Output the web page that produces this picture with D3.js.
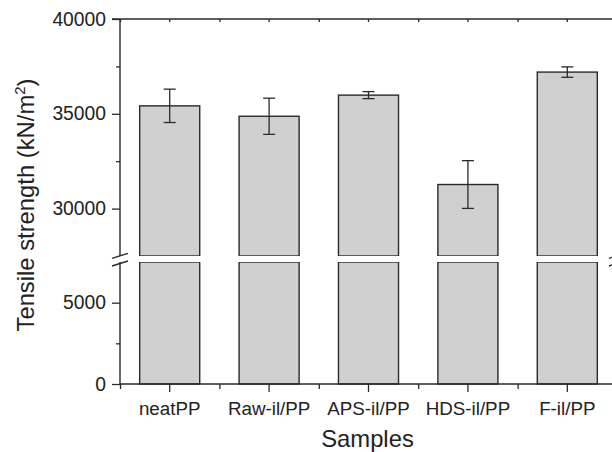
<!DOCTYPE html>
<html><head><meta charset="utf-8">
<script src="https://cdn.jsdelivr.net/npm/d3@7"></script>
<style>html,body{margin:0;background:#fff;overflow:hidden}svg{display:block}text{font-family:"Liberation Sans",Arial,Helvetica,sans-serif;fill:#222}</style>
</head><body>
<svg id="c" width="612" height="452"></svg>
<script>
const categories = ["neatPP", "Raw-il/PP", "APS-il/PP", "HDS-il/PP", "F-il/PP"];
const values = [35420, 34870, 35985, 31270, 37200];
const errors = [880, 955, 185, 1260, 275];
const upperTicks = [30000, 35000, 40000];
const upperMinor = [32500, 37500];
const lowerTicks = [0, 5000];
const lowerMinor = [2500];

const svg = d3.select("#c");
const L = 120, R = 617, T = 19, B = 384;
const breakTop = 256, breakBot = 262;
const ink = "#2a2a2a";

const x = d3.scaleBand().domain(categories).range([L, R]).padding(0);
const yU = d3.scaleLinear().domain([27500, 40000]).range([breakTop, T]);
const yL = d3.scaleLinear().domain([0, 7500]).range([B, breakBot]);
const bw = x.bandwidth() * 0.604;

const g = svg.append("g");
categories.forEach((c, i) => {
  const cx = x(c) + x.bandwidth() / 2;
  g.append("rect").attr("x", cx - bw / 2).attr("y", yU(values[i]))
    .attr("width", bw).attr("height", breakTop - yU(values[i]))
    .attr("fill", "#d0d0d0").attr("stroke", ink).attr("stroke-width", 1.4);
  g.append("rect").attr("x", cx - bw / 2).attr("y", breakBot)
    .attr("width", bw).attr("height", B - breakBot)
    .attr("fill", "#d0d0d0").attr("stroke", ink).attr("stroke-width", 1.4);
});
svg.append("rect").attr("x", L + 1).attr("y", breakTop).attr("width", R - L).attr("height", breakBot - breakTop).attr("fill", "#fff");

categories.forEach((c, i) => {
  const cx = x(c) + x.bandwidth() / 2;
  const y1 = yU(values[i] + errors[i]), y2 = yU(values[i] - errors[i]);
  const e = svg.append("g").attr("stroke", ink).attr("stroke-width", 1.3);
  e.append("line").attr("x1", cx).attr("x2", cx).attr("y1", y1).attr("y2", y2);
  e.append("line").attr("x1", cx - 6).attr("x2", cx + 6).attr("y1", y1).attr("y2", y1);
  e.append("line").attr("x1", cx - 6).attr("x2", cx + 6).attr("y1", y2).attr("y2", y2);
});

function styleAxis(fs) {
  return sel => {
    sel.select(".domain").remove();
    sel.selectAll("line").attr("stroke", ink).attr("stroke-width", 1.3);
    sel.selectAll("text").attr("font-size", fs).attr("fill", "#222");
  };
}
svg.append("g").attr("transform", `translate(${L},0)`)
  .call(d3.axisLeft(yU).tickValues(upperTicks).tickSize(8).tickPadding(6).tickFormat(d3.format("d")))
  .call(styleAxis(19.3));
svg.append("g").attr("transform", `translate(${L},0)`)
  .call(d3.axisLeft(yU).tickValues(upperMinor).tickSize(4).tickFormat(""))
  .call(styleAxis(19.3));
svg.append("g").attr("transform", `translate(${L},0)`)
  .call(d3.axisLeft(yL).tickValues(lowerTicks).tickSize(8).tickPadding(6).tickFormat(d3.format("d")))
  .call(styleAxis(19.3));
svg.append("g").attr("transform", `translate(${L},0)`)
  .call(d3.axisLeft(yL).tickValues(lowerMinor).tickSize(4).tickFormat(""))
  .call(styleAxis(19.3));

const bounds = categories.map(c => x(c));
const lin = d3.scaleLinear().domain([L, R]).range([L, R]);
svg.append("g").attr("transform", `translate(0,${B})`)
  .call(d3.axisBottom(x).tickSize(8).tickPadding(10))
  .call(styleAxis(18.8));
svg.append("g").attr("transform", `translate(0,${B})`)
  .call(d3.axisBottom(lin).tickValues(bounds).tickSize(5).tickFormat(""))
  .call(styleAxis(18.8));
svg.append("g").attr("transform", `translate(0,${T})`)
  .call(d3.axisBottom(x).tickSize(3).tickFormat(""))
  .call(styleAxis(18.8));
svg.append("g").attr("transform", `translate(0,${T})`)
  .call(d3.axisBottom(lin).tickValues(bounds).tickSize(3).tickFormat(""))
  .call(styleAxis(18.8));

const fr = svg.append("g").attr("stroke", ink).attr("stroke-width", 1.4).attr("fill", "none");
fr.append("line").attr("x1", L - 8).attr("x2", R).attr("y1", T).attr("y2", T);
fr.append("line").attr("x1", L).attr("x2", R).attr("y1", B).attr("y2", B);
fr.append("line").attr("x1", L).attr("x2", L).attr("y1", T).attr("y2", breakTop);
fr.append("line").attr("x1", L).attr("x2", L).attr("y1", breakBot).attr("y2", B);
[L, R].forEach(xx => {
  fr.append("line").attr("x1", xx - 8).attr("x2", xx + 8).attr("y1", breakTop + 2.3).attr("y2", breakTop - 2.7);
  fr.append("line").attr("x1", xx - 8).attr("x2", xx + 8).attr("y1", breakBot + 4).attr("y2", breakBot - 1);
});

svg.append("text").attr("x", (L + R) / 2 - 1).attr("y", 447).attr("text-anchor", "middle")
  .attr("font-size", 23.8).text("Samples");
const yt = svg.append("text").attr("transform", `translate(34,205) rotate(-90)`)
  .attr("text-anchor", "middle").attr("font-size", 23.8);
yt.append("tspan").text("Tensile strength (kN/m");
yt.append("tspan").attr("font-size", 15).attr("dy", -9).text("2");
yt.append("tspan").attr("dy", 9).text(")");
</script>
</body></html>
